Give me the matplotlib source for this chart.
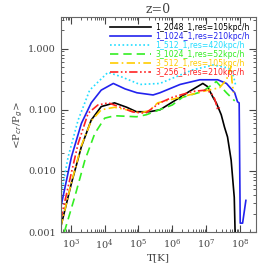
import matplotlib
matplotlib.use("Agg")
import matplotlib.pyplot as plt

plt.rcParams['font.family'] = ['DejaVu Serif']

# temperature [K] and <Pcr/Pg>
t_black = [500, 1040, 2050, 4000, 7900, 1.95e4, 4.5e4, 8.7e4, 2.1e5, 4.3e5, 1.7e6, 3.2e6, 8e6,
           1.1e7, 1.6e7, 2e7, 2.8e7, 3.5e7, 4.3e7, 5.5e7, 6.8e7, 7.2e7]
y_black = [0.0012, 0.0063, 0.025, 0.068, 0.113, 0.13, 0.11, 0.093, 0.093, 0.1, 0.16, 0.2,
           0.27, 0.24, 0.16, 0.13, 0.083, 0.052, 0.036, 0.015, 0.0037, 0.001]

t_blue = [500, 1040, 2050, 4000, 7900, 1.8e4, 4e4, 9e4, 2.7e5, 4.3e5, 1.7e6, 6.5e6, 2.2e7, 4e7,
          7e7, 8.5e7, 9.5e7, 1.02e8, 1.2e8, 1.5e8]
y_blue = [0.0025, 0.017, 0.06, 0.13, 0.21, 0.27, 0.22, 0.19, 0.175, 0.19, 0.26, 0.31, 0.31, 0.27,
          0.19, 0.135, 0.13, 0.0014, 0.0014, 0.0033]

t_cyan = [500, 830, 1640, 3600, 1.25e4, 3e4, 1.1e5, 4.3e5, 1.7e6, 4e6, 1.6e7, 4e7, 5.5e7, 6.5e7, 7.5e7]
y_cyan = [0.0038, 0.017, 0.068, 0.21, 0.41, 0.35, 0.26, 0.27, 0.37, 0.45, 0.54, 0.49, 0.45, 0.35, 0.25]

t_green = [640, 1310, 2600, 5100, 1.0e4, 1.95e4, 8.7e4, 1.7e5, 1e6, 2e6, 8e6, 2e7, 4e7, 7e7]
y_green = [0.001, 0.0038, 0.015, 0.041, 0.073, 0.08, 0.077, 0.083, 0.12, 0.16, 0.2, 0.29, 0.19, 0.14]

t_yellow = [500, 1040, 2050, 4000, 7900, 1.95e4, 4.5e4, 1.1e5, 2.1e5, 3.7e5, 1.7e6, 8e6, 2.5e7, 4e7,
            5.5e7, 5.8e7, 6.5e7]
y_yellow = [0.0012, 0.0065, 0.026, 0.066, 0.1, 0.11, 0.1, 0.089, 0.097, 0.13, 0.16, 0.2, 0.23, 0.31,
            0.51, 0.3, 0.19]

t_red = [500, 830, 1640, 3240, 6300, 1.3e4, 6.9e4, 1.6e5, 4.3e5, 1e6, 4e6, 1e7, 1.4e7, 1.8e7, 2.2e7,
         2.5e7]
y_red = [0.0016, 0.0055, 0.028, 0.088, 0.12, 0.13, 0.092, 0.088, 0.13, 0.16, 0.2, 0.21, 0.19, 0.15,
         0.1, 0.11]

labels = ['1_2048_1,res=105kpc/h', '1_1024_1,res=210kpc/h', '1_512_1,res=420kpc/h',
          '3_1024_1,res=52kpc/h', '3_512_1,res=105kpc/h', '3_256_1,res=210kpc/h']

fig = plt.figure(figsize=(2.74, 2.74), dpi=100)
ax = fig.add_axes([0.2215, 0.153, 0.713, 0.785])

lines = [
    ax.plot(t_black, y_black, color='black', lw=1.2, ls='-')[0],
    ax.plot(t_blue, y_blue, color='#2222ee', lw=1.2, ls='-')[0],
    ax.plot(t_cyan, y_cyan, color='#22ddff', lw=1.2, ls=(0, (1, 1.5)))[0],
    ax.plot(t_green, y_green, color='#33ee22', lw=1.2, ls=(0, (5, 3)))[0],
    ax.plot(t_yellow, y_yellow, color='#ffcc00', lw=1.2, ls=(0, (5, 2, 1, 2)))[0],
    ax.plot(t_red, y_red, color='#ff2222', lw=1.2, ls=(0, (5, 1.5, 1, 1.5, 1, 1.5)))[0],
]

ax.set_xscale('log')
ax.set_yscale('log')
ax.set_xlim(500, 3e8)
ax.set_ylim(0.001, 3.3)
ax.set_yticks([0.001, 0.01, 0.1, 1.0])
ax.set_yticklabels(['0.001', '0.010', '0.100', '1.000'])
ax.tick_params(which='both', direction='in', top=True, right=True, labelsize=7, colors='#444444')
ax.tick_params(which='major', length=5)
ax.tick_params(which='minor', length=2.5)
for s in ax.spines.values():
    s.set_color('#666666')

ax.set_xlabel('T[K]', fontsize=7.5, color='#444444', labelpad=1)
ax.set_ylabel(r'<P$_{cr}$/P$_{g}$>', fontsize=7.5, color='#444444', labelpad=2)
ax.set_title('z=0', fontsize=9, color='#444444', pad=3)

leg = ax.legend(lines, labels, loc='upper right', frameon=False,
                handlelength=5.2, handletextpad=0.6, labelspacing=0.0,
                borderaxespad=0.4, prop={'family': 'DejaVu Sans', 'size': 5.6})
for txt, ln in zip(leg.get_texts(), lines):
    txt.set_color(ln.get_color())

fig.savefig('out.png', dpi=100)
